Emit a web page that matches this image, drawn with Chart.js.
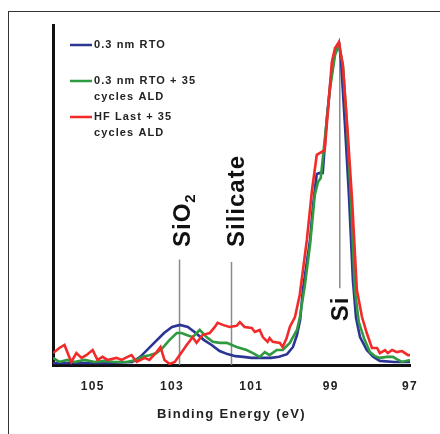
<!DOCTYPE html>
<html>
<head>
<meta charset="utf-8">
<script src="https://cdn.jsdelivr.net/npm/chart.js@4"></script>
<style>
  html, body { margin: 0; padding: 0; background: #fff; }
  #wrap { position: relative; width: 440px; height: 434px; overflow: hidden; }
  #frame { position: absolute; left: 8px; top: 11px; right: -2px; bottom: -2px; border-left: 1.5px solid #333; border-top: 1.5px solid #333; }
  #c { position: absolute; left: 0; top: 0; }
</style>
</head>
<body>
<div id="wrap">
  <div id="frame"></div>
  <canvas id="c" width="440" height="434"></canvas>
</div>
<script>
// --- data (binding energy in eV, intensity in arb. units) ---
const blueE = [106.0, 105.3, 104.6, 104.0, 103.8, 103.5, 103.2, 103.0, 102.8, 102.6, 102.4, 102.2, 102.0, 101.8, 101.6, 101.4, 101.2, 101.0, 100.8, 100.5, 100.3, 100.1, 99.95, 99.85, 99.77, 99.7, 99.6, 99.52, 99.45, 99.4, 99.35, 99.27, 99.2, 99.1, 99.0, 98.9, 98.79, 98.74, 98.64, 98.54, 98.44, 98.36, 98.26, 98.09, 97.93, 97.76, 97.4, 97.0];
const blueY = [0.6, 0.6, 0.6, 0.9, 2.4, 5.9, 9.4, 11.2, 11.8, 11.2, 9.4, 7.4, 5.9, 4.1, 3.2, 2.6, 2.4, 2.1, 2.1, 2.1, 2.4, 3.2, 5.3, 8.8, 13.2, 22.1, 30.3, 36.8, 46.2, 51.5, 56.2, 56.5, 56.5, 72.1, 83.8, 91.2, 94.7, 89.7, 70.6, 50, 25, 13.8, 8.2, 4.4, 2.4, 1.2, 0.9, 0.9];

const greenE = [106.0, 105.84, 105.64, 105.46, 105.2, 104.95, 104.7, 104.45, 104.15, 103.9, 103.74, 103.57, 103.39, 103.24, 103.06, 102.88, 102.76, 102.63, 102.48, 102.3, 102.13, 101.97, 101.8, 101.62, 101.37, 101.12, 100.96, 100.79, 100.66, 100.54, 100.36, 100.21, 100.03, 99.85, 99.78, 99.65, 99.52, 99.4, 99.32, 99.25, 99.15, 99.02, 98.89, 98.79, 98.69, 98.59, 98.49, 98.39, 98.29, 98.16, 98.01, 97.88, 97.76, 97.58, 97.43, 97.3, 97.2, 97.0];
const greenY = [2.1, 0.9, 1.5, 0.9, 1.5, 0.9, 1.2, 0.9, 0.9, 1.5, 2.4, 2.9, 3.5, 5.0, 7.4, 9.4, 9.4, 8.8, 8.2, 10.3, 8.2, 6.8, 6.5, 6.5, 5.3, 4.4, 3.5, 2.4, 3.8, 2.9, 4.4, 4.4, 6.5, 10.3, 13.8, 23.5, 35.3, 50, 53.8, 55, 66.2, 80.9, 91.2, 94.1, 88.2, 70.6, 48.5, 22, 12.6, 7.9, 3.8, 2.6, 2.1, 2.4, 2.4, 1.5, 0.9, 1.5];

const redE = [106.0, 105.84, 105.71, 105.54, 105.41, 105.28, 105.16, 105.0, 104.88, 104.75, 104.63, 104.4, 104.27, 104.12, 104.02, 103.89, 103.69, 103.57, 103.39, 103.29, 103.19, 103.06, 102.93, 102.81, 102.63, 102.48, 102.38, 102.23, 102.05, 101.92, 101.85, 101.72, 101.55, 101.37, 101.29, 101.17, 100.99, 100.91, 100.79, 100.71, 100.59, 100.54, 100.46, 100.28, 100.21, 100.11, 100.03, 99.9, 99.78, 99.6, 99.47, 99.35, 99.15, 98.97, 98.89, 98.79, 98.69, 98.57, 98.46, 98.34, 98.21, 98.09, 97.96, 97.83, 97.76, 97.63, 97.56, 97.45, 97.33, 97.2, 97.05, 97.0];
const redY = [3.5, 5.0, 5.9, 0.9, 3.5, 2.1, 2.9, 4.4, 1.5, 2.4, 1.5, 2.1, 1.5, 2.4, 2.9, 0.9, 2.1, 1.5, 3.8, 5.3, 1.5, 0.3, 0.9, 2.9, 5.9, 8.2, 6.5, 8.8, 9.4, 11.2, 12.4, 11.8, 11.2, 11.5, 12.6, 11.2, 10.9, 9.7, 10.3, 8.2, 6.8, 7.9, 6.8, 6.5, 5.3, 7.9, 11.2, 14.1, 20.6, 36.8, 51.5, 61.8, 63.2, 89.1, 93.2, 95.0, 87.6, 68.2, 48.5, 22.1, 14.1, 9.4, 5.0, 5.0, 3.5, 4.4, 3.5, 4.4, 3.8, 4.1, 2.9, 2.9];

const energyTicks = [105, 103, 101, 99, 97];

// peak markers
const peakE = [102.81, 101.5, 98.77];
const peakLabels = ['SiO2', 'Silicate', 'Si'];

const seriesLabels = [['0.3 nm RTO'], ['0.3 nm RTO + 35', 'cycles ALD'], ['HF Last + 35', 'cycles ALD']];
const seriesColors = ['#2c3593', '#2f9a40', '#f32a2a'];

const pts = (xs, ys) => xs.map((x, i) => ({ x, y: ys[i] }));

// gray marker lines, behind the curves
const markerLines = {
	id: 'markerLines',
	beforeDatasetsDraw(chart) {
		const { ctx, scales: { x, y } } = chart;
		const spans = [[31, 0], [30.3, 0], [94.7, 22.6]];
		ctx.save();
		ctx.strokeStyle = '#8a8a8a';
		ctx.lineWidth = 1.5;
		peakE.forEach((e, i) => {
			const px = x.getPixelForValue(e);
			ctx.beginPath();
			ctx.moveTo(px, y.getPixelForValue(spans[i][0]));
			ctx.lineTo(px, y.getPixelForValue(spans[i][1]));
			ctx.stroke();
		});
		ctx.restore();
	}
};

// rotated peak names + the hand-placed legend
const textLayer = {
	id: 'textLayer',
	beforeDraw(chart) { chart.ctx.letterSpacing = '1.3px'; },
	afterDraw(chart) {
		const { ctx, scales: { x, y } } = chart;
		ctx.save();
		ctx.letterSpacing = '1px';
		ctx.fillStyle = '#111';
		const starts = [34.7, 34.7, 12.9];   // where the text begins (bottom end), in y units
		const dx = [10, 12, 8];
		peakLabels.forEach((lab, i) => {
			const px = x.getPixelForValue(peakE[i]) + dx[i];
			const py = y.getPixelForValue(starts[i]);
			ctx.save();
			ctx.translate(px, py);
			ctx.rotate(-Math.PI / 2);
			ctx.textBaseline = 'alphabetic';
			ctx.textAlign = 'left';
			const m = lab.match(/^(.*?)(\d*)$/);
			ctx.font = 'bold 24px "Liberation Sans", Arial, sans-serif';
			ctx.fillText(m[1], 0, 0);
			if (m[2]) {
				const w = ctx.measureText(m[1]).width;
				ctx.font = 'bold 15px "Liberation Sans", Arial, sans-serif';
				ctx.fillText(m[2], w, 5);
			}
			ctx.restore();
		});

		// legend
		ctx.font = 'bold 11px "Liberation Sans", Arial, sans-serif';
		ctx.letterSpacing = '1.1px';
		ctx.textBaseline = 'middle';
		const rowY = [45, 81, 117];
		seriesLabels.forEach((lines, i) => {
			ctx.strokeStyle = seriesColors[i];
			ctx.lineWidth = 2.5;
			ctx.beginPath();
			ctx.moveTo(70, rowY[i]);
			ctx.lineTo(92, rowY[i]);
			ctx.stroke();
			ctx.fillStyle = '#222';
			lines.forEach((t, k) => ctx.fillText(t, 94, rowY[i] + k * 16));
		});
		ctx.restore();
	}
};

const lineDs = (label, xs, ys, color, order) => ({
	label,
	data: pts(xs, ys),
	borderColor: color,
	borderWidth: 2.6,
	pointRadius: 0,
	tension: 0,
	fill: false,
	order,
});

new Chart(document.getElementById('c'), {
	type: 'line',
	data: {
		datasets: [
			lineDs(seriesLabels[0].join(' '), blueE, blueY, seriesColors[0], 3),
			lineDs(seriesLabels[1].join(' '), greenE, greenY, seriesColors[1], 2),
			lineDs(seriesLabels[2].join(' '), redE, redY, seriesColors[2], 1),
		]
	},
	options: {
		responsive: false,
		animation: false,
		events: [],
		layout: { padding: { left: 0, top: 25, right: 30, bottom: 0 } },
		plugins: { legend: { display: false }, tooltip: { enabled: false } },
		scales: {
			x: {
				type: 'linear',
				reverse: true,
				min: 97,
				max: 106,
				afterBuildTicks: s => { s.ticks = energyTicks.map(v => ({ value: v })); },
				afterFit: s => { s.height = 69; },
				grid: { display: false, drawTicks: false },
				border: { display: true, color: '#111', width: 3 },
				ticks: {
					color: '#222',
					padding: 14,
					maxRotation: 0,
					font: { family: '"Liberation Sans", Arial, sans-serif', size: 12, weight: 'bold' },
				},
				title: {
					display: true,
					text: 'Binding Energy (eV)',
					color: '#222',
					padding: { top: 0, bottom: 12 },
					font: { family: '"Liberation Sans", Arial, sans-serif', size: 13, weight: 'bold' },
				}
			},
			y: {
				min: 0,
				max: 100,
				afterFit: s => { s.width = 53; },
				grid: { display: false, drawTicks: false },
				border: { display: true, color: '#111', width: 3 },
				ticks: { display: false }
			}
		}
	},
	plugins: [markerLines, textLayer]
});
</script>
</body>
</html>
